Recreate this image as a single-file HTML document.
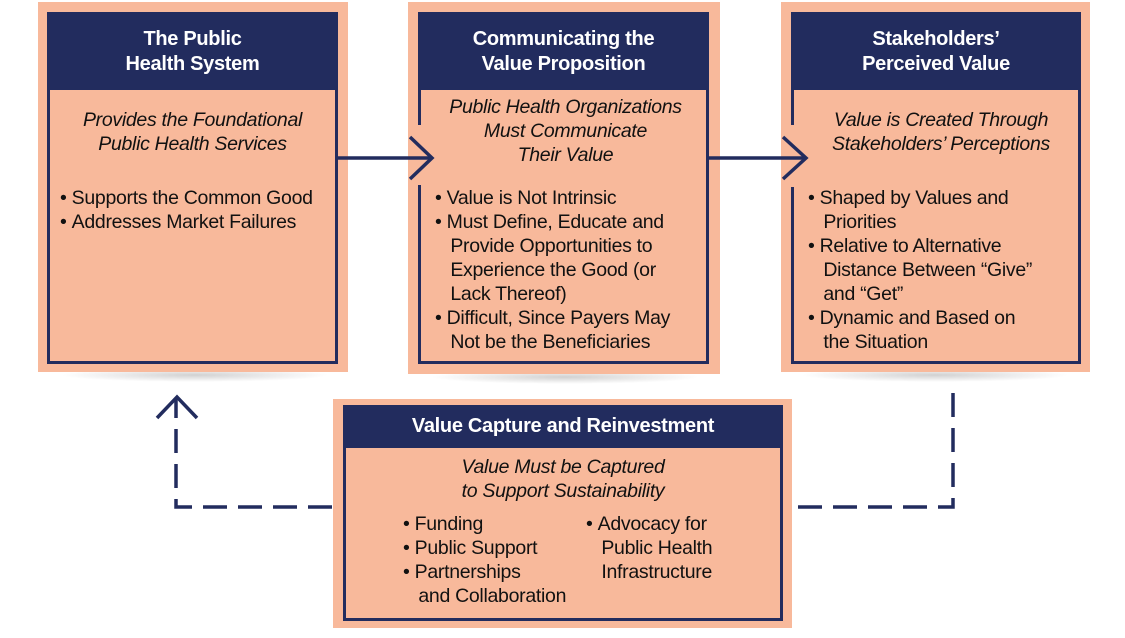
<!DOCTYPE html>
<html><head><meta charset="utf-8"><style>
body{margin:0;width:1125px;height:638px;background:#fff;position:relative;overflow:hidden;font-family:"Liberation Sans",sans-serif;color:#111}
.o{position:absolute;background:#f8b99b}
.sh{position:absolute;height:14px;border-radius:50%;background:radial-gradient(ellipse at center,rgba(0,0,0,.18),rgba(0,0,0,0) 70%)}
.in{position:absolute;border:3px solid #222c5e;box-sizing:border-box}
.hd{position:absolute;background:#222c5e;color:#fff;font-weight:bold;font-size:20px;line-height:25px;text-align:center;letter-spacing:-0.3px}
.t{position:absolute;font-size:19.5px;line-height:24px;white-space:nowrap;letter-spacing:-0.3px}
.i{font-style:italic;text-align:center}
</style></head><body>
<div class="sh" style="left:60px;top:368px;width:270px"></div>
<div class="sh" style="left:430px;top:370px;width:270px"></div>
<div class="sh" style="left:800px;top:368px;width:270px"></div>

<div class="o" style="left:38px;top:2px;width:310px;height:370px"></div>
<div class="o" style="left:408px;top:2px;width:312px;height:372px"></div>
<div class="o" style="left:781px;top:2px;width:309px;height:370px"></div>
<div class="o" style="left:333px;top:399px;width:459px;height:229px"></div>

<div class="in" style="left:47px;top:12px;width:291px;height:352px"></div>
<div class="hd" style="left:47px;top:12px;width:291px;height:78px;padding-top:15px;box-sizing:border-box">The Public<br>Health System</div>
<div class="t i" style="left:47px;top:108px;width:291px">Provides the Foundational<br>Public Health Services</div>
<div class="t" style="left:60px;top:186px">•&nbsp;Supports the Common Good<br>•&nbsp;Addresses Market Failures</div>

<div class="in" style="left:418px;top:12px;width:291px;height:352px"></div>
<div class="hd" style="left:418px;top:12px;width:291px;height:78px;padding-top:15px;box-sizing:border-box">Communicating the<br>Value Proposition</div>
<div class="t i" style="left:420px;top:95px;width:291px">Public Health Organizations<br>Must Communicate<br>Their Value</div>
<div class="t" style="left:435px;top:186px">•&nbsp;Value is Not Intrinsic<br>•&nbsp;Must Define, Educate and<br>&nbsp;&nbsp;&nbsp;Provide Opportunities to<br>&nbsp;&nbsp;&nbsp;Experience the Good (or<br>&nbsp;&nbsp;&nbsp;Lack Thereof)<br>•&nbsp;Difficult, Since Payers May<br>&nbsp;&nbsp;&nbsp;Not be the Beneficiaries</div>

<div class="in" style="left:791px;top:12px;width:290px;height:352px"></div>
<div class="hd" style="left:791px;top:12px;width:290px;height:78px;padding-top:15px;box-sizing:border-box">Stakeholders’<br>Perceived Value</div>
<div class="t i" style="left:796px;top:108px;width:290px">Value is Created Through<br>Stakeholders’ Perceptions</div>
<div class="t" style="left:808px;top:186px">•&nbsp;Shaped by Values and<br>&nbsp;&nbsp;&nbsp;Priorities<br>•&nbsp;Relative to Alternative<br>&nbsp;&nbsp;&nbsp;Distance Between “Give”<br>&nbsp;&nbsp;&nbsp;and “Get”<br>•&nbsp;Dynamic and Based on<br>&nbsp;&nbsp;&nbsp;the Situation</div>

<div class="in" style="left:343px;top:405px;width:440px;height:216px"></div>
<div class="hd" style="left:343px;top:405px;width:440px;height:43px;padding-top:9px;box-sizing:border-box">Value Capture and Reinvestment</div>
<div class="t i" style="left:343px;top:455px;width:440px">Value Must be Captured<br>to Support Sustainability</div>
<div class="t" style="left:403px;top:512px">•&nbsp;Funding<br>•&nbsp;Public Support<br>•&nbsp;Partnerships<br>&nbsp;&nbsp;&nbsp;and Collaboration</div>
<div class="t" style="left:586px;top:512px">•&nbsp;Advocacy for<br>&nbsp;&nbsp;&nbsp;Public Health<br>&nbsp;&nbsp;&nbsp;Infrastructure</div>

<svg width="1125" height="638" style="position:absolute;left:0;top:0">
<g stroke="#222c5e" stroke-width="3.5" fill="none">
<rect x="416" y="125" width="8" height="60" fill="#f8b99b" stroke="none"/>
<rect x="789" y="125" width="8" height="62" fill="#f8b99b" stroke="none"/>
<line x1="337" y1="158" x2="432" y2="158"/>
<polyline points="410,137 432,158 410,179"/>
<line x1="708" y1="158" x2="806" y2="158"/>
<polyline points="783,137 806,158 783,179"/>
<polyline points="332,507 176,507 176,398" stroke-dasharray="24,11"/>
<polyline points="157,418 177,397 197,418"/>
<polyline points="953,393 953,507 793,507" stroke-dasharray="24,11"/>
</g>
</svg>
</body></html>
